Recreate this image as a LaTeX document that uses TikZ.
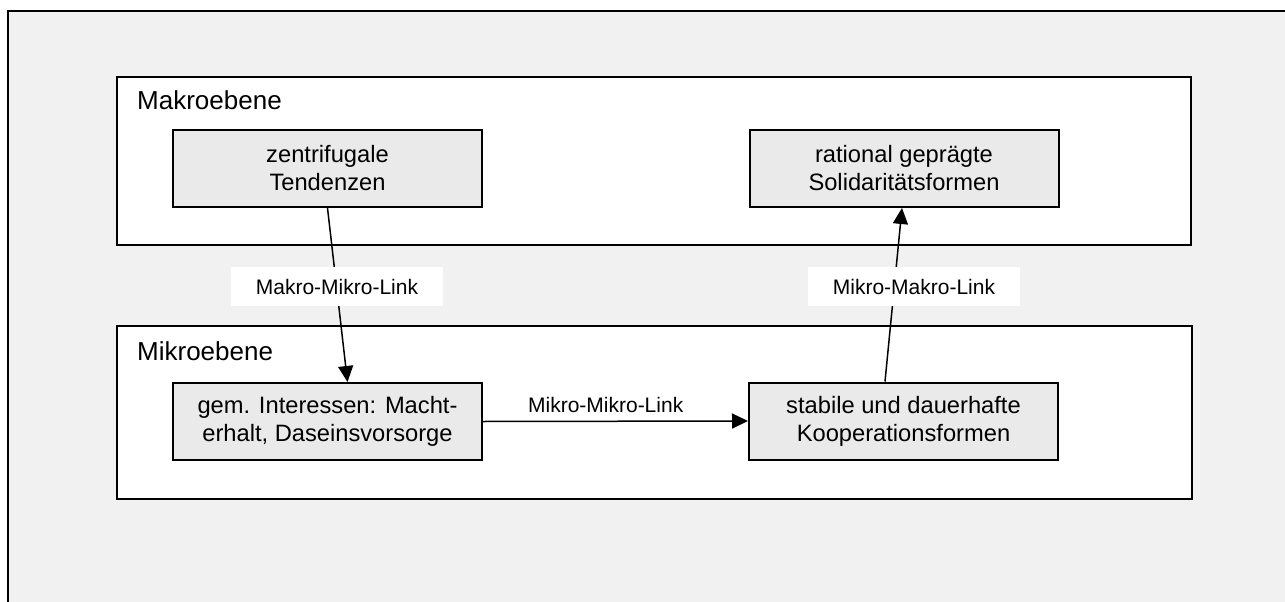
\documentclass[tikz,border=0pt]{standalone}
\usepackage{fontspec}
\setmainfont{Liberation Sans}
\usetikzlibrary{arrows.meta}
\definecolor{bgframe}{RGB}{241,241,241}
\definecolor{boxfill}{RGB}{234,234,234}
\begin{document}
\begin{tikzpicture}[x=1pt,y=-1pt,
  levelbox/.style={draw=black,line width=2pt,fill=white,inner sep=0pt,anchor=north west},
  levellabel/.style={anchor=base west,inner sep=0pt,font=\fontsize{26}{30}\selectfont},
  stepbox/.style={draw=black,line width=2pt,fill=boxfill,minimum width=309pt,minimum height=77pt,inner sep=0pt,align=center,font=\fontsize{23.7}{28}\selectfont},
  linklabel/.style={fill=white,minimum width=212pt,minimum height=39pt,inner sep=0pt,font=\fontsize{21}{25}\selectfont},
  conn/.style={line width=1.5pt,-{Triangle[length=16pt,width=15pt]}}]

\useasboundingbox (0,0) rectangle (1285,602);
\fill[white] (0,0) rectangle (1285,602);
\fill[bgframe] (8,11) rectangle (1285,602);
\draw[line width=2.5pt] (8,602) -- (8,11) -- (1285,11);

% level containers
\node[levelbox,minimum width=1074pt,minimum height=168pt] (makro) at (116,76) {};
\node[levelbox,minimum width=1075pt,minimum height=173pt] (mikro) at (116,325) {};
\node[levellabel] (makrolabel) at (137,110) {Makroebene};
\node[levellabel] (mikrolabel) at (137,360) {Mikroebene};

% step boxes
\node[stepbox] (zent) at (327.5,168.5) {zentrifugale\\Tendenzen};
\node[stepbox] (rat) at (904,168.5) {rational geprägte\\Solidaritätsformen};
\node[stepbox] (gem) at (327.5,421.5) {gem. Interessen: Macht-\\erhalt, Daseinsvorsorge};
\node[stepbox] (stab) at (903.5,421) {stabile und dauerhafte\\Kooperationsformen};

% connectors
\draw[conn] (zent.south) -- ([xshift=20pt]gem.north);
\draw[conn] ([xshift=-18.5pt]stab.north) -- ([xshift=-2pt]rat.south);
\draw[conn] (gem.east) -- (stab.west)
  node[pos=0.463,anchor=base,yshift=9pt,inner sep=0pt,font=\fontsize{21}{25}\selectfont] (mmlabel) {Mikro-Mikro-Link};

% link labels
\node[linklabel] (makromikro) at (337,286.5) {Makro-Mikro-Link};
\node[linklabel] (mikromakro) at (914,286.5) {Mikro-Makro-Link};
\end{tikzpicture}
\end{document}
